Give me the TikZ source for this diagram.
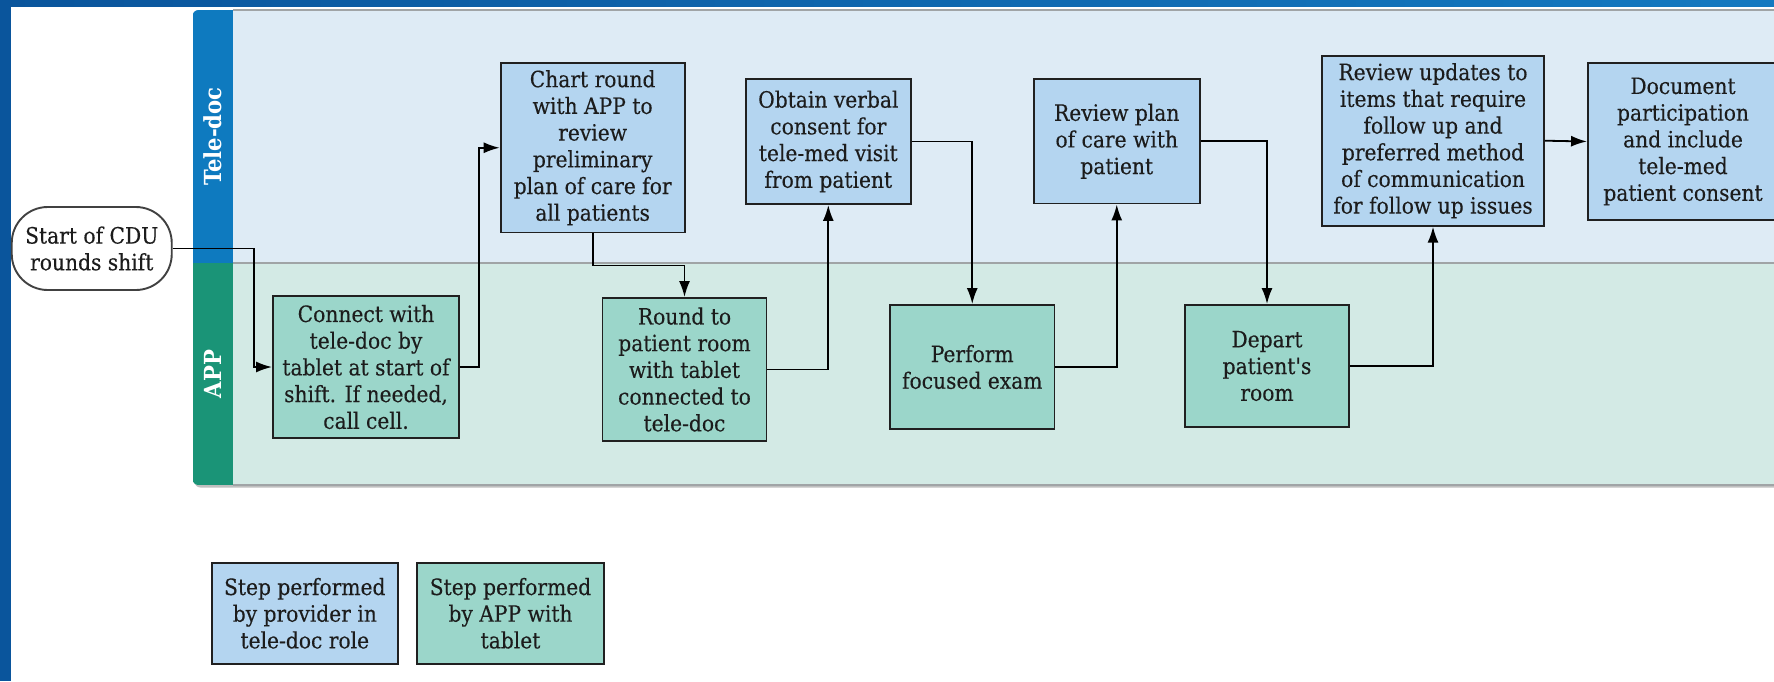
\documentclass[tikz,border=0pt]{standalone}
\usepackage{fontspec}
\usetikzlibrary{arrows.meta,shadings}
\newfontfamily\boxfont{DejaVu Serif Condensed}[FakeBold=0.25]
\newfontfamily\lanefont{DejaVu Serif Condensed Bold}

\definecolor{framedark}{HTML}{0A559C}
\definecolor{framelight}{HTML}{1479C0}
\definecolor{tdlane}{HTML}{DEEBF5}
\definecolor{applane}{HTML}{D3EAE5}
\definecolor{tdstrip}{HTML}{0E7ABF}
\definecolor{appstrip}{HTML}{1A9477}
\definecolor{tdbox}{HTML}{B4D5F0}
\definecolor{appboxfill}{HTML}{9BD6CA}
\definecolor{boxline}{HTML}{202020}
\definecolor{lanerule}{HTML}{A0A4A6}
\definecolor{inktext}{HTML}{1C1C1C}

\tikzset{
  stepbox/.style={draw=boxline, line width=1.9pt, align=center, inner sep=0pt,
    text=inktext, font={\boxfont\fontsize{22.5}{26.7}\selectfont}},
  tdstep/.style={stepbox, fill=tdbox},
  appstep/.style={stepbox, fill=appboxfill},
  terminal/.style={stepbox, fill=white, draw=boxline!85, rounded corners=36pt},
  flow/.style={draw=black, line width=1.8pt, -{Latex[length=16pt,width=11pt]}},
  lanelabel/.style={text=white, rotate=90, font={\lanefont\fontsize{23.5}{25}\selectfont}},
}

\begin{document}
\begin{tikzpicture}[x=1pt,y=-1pt]
  \useasboundingbox (0,0) rectangle (1774,681);
  \fill[white] (0,0) rectangle (1774,681);

  % slide frame
  \shade[left color=framedark, right color=framelight] (0,0) rectangle (1774,6);
  \fill[framedark] (0,0) rectangle (11,681);

  % pool with two lanes
  \fill[black!25] (194.5,12) [rounded corners=6pt] -- (194.5,487.5) -- (1780,487.5) [sharp corners] -- (1780,12) -- cycle;
  \begin{scope}
    \clip (192.5,10) [rounded corners=6pt] -- (192.5,485) -- (1780,485) [sharp corners] -- (1780,10) [rounded corners=6pt] -- cycle;
    \fill[tdlane] (192.5,10) rectangle (1780,263);
    \fill[applane] (192.5,263) rectangle (1780,485);
    \fill[tdstrip] (192.5,10) rectangle (233,263);
    \fill[appstrip] (192.5,263) rectangle (233,485);
  \end{scope}
  \draw[lanerule, line width=1.2pt] (233,10) -- (1780,10);
  \draw[lanerule, line width=2pt] (233,263) -- (1780,263);
  \draw[lanerule, line width=1.2pt] (233,485) -- (1780,485);
  \node[lanelabel] (lanetd) at (212.5,136.5) {Tele-doc};
  \node[lanelabel] (laneapp) at (212.5,374) {APP};

  % process steps
  \node[terminal, minimum width=160pt, minimum height=83pt] (start) at (91.75,248.5) {Start of CDU\\rounds shift};
  \node[appstep, minimum width=186pt, minimum height=142pt] (connect) at (366,367) {Connect with\\tele-doc by\\tablet at start of\\shift. If needed,\\call cell.};
  \node[tdstep, minimum width=184pt, minimum height=169.5pt] (chart) at (592.65,147.75) {Chart round\\with APP to\\review\\preliminary\\plan of care for\\all patients};
  \node[appstep, minimum width=164pt, minimum height=143pt] (round) at (684.5,369.5) {Round to\\patient room\\with tablet\\connected to\\tele-doc};
  \node[tdstep, minimum width=164.6pt, minimum height=125pt] (obtain) at (828.3,141.5) {Obtain verbal\\consent for\\tele-med visit\\from patient};
  \node[appstep, minimum width=164.5pt, minimum height=124pt] (perform) at (972.25,367) {Perform\\focused exam};
  \node[tdstep, minimum width=166pt, minimum height=124.5pt] (plan) at (1116.75,141.25) {Review plan\\of care with\\patient};
  \node[appstep, minimum width=164pt, minimum height=122pt] (depart) at (1267,366) {Depart\\patient's\\room};
  \node[tdstep, minimum width=222pt, minimum height=170pt] (updates) at (1433,140.7) {Review updates to\\items that require\\follow up and\\preferred method\\of communication\\for follow up issues};
  \node[tdstep, minimum width=190pt, minimum height=157pt] (document) at (1683,141.5) {Document\\participation\\and include\\tele-med\\patient consent};

  % legend
  \node[tdstep, minimum width=186pt, minimum height=101pt] (keytd) at (304.8,613.3) {Step performed\\by provider in\\tele-doc role};
  \node[appstep, minimum width=187pt, minimum height=101pt] (keyapp) at (510.5,613.3) {Step performed\\by APP with\\tablet};

  % flow between steps
  \draw[flow] (start.east) -- ++(81,0) |- (connect.west);
  \draw[flow] (connect.east) -- ++(19,0) |- (chart.west);
  \draw[flow] (chart.south) -- ++(0,32) -| (round.north);
  \draw[flow] (round.east) -| (obtain.south);
  \draw[flow] (obtain.east) -| (perform.north);
  \draw[flow] (perform.east) -| (plan.south);
  \draw[flow] (plan.east) -| (depart.north);
  \draw[flow] (depart.east) -| (updates.south);
  \draw[flow] (updates.east) -- (document.west);
\end{tikzpicture}
\end{document}
